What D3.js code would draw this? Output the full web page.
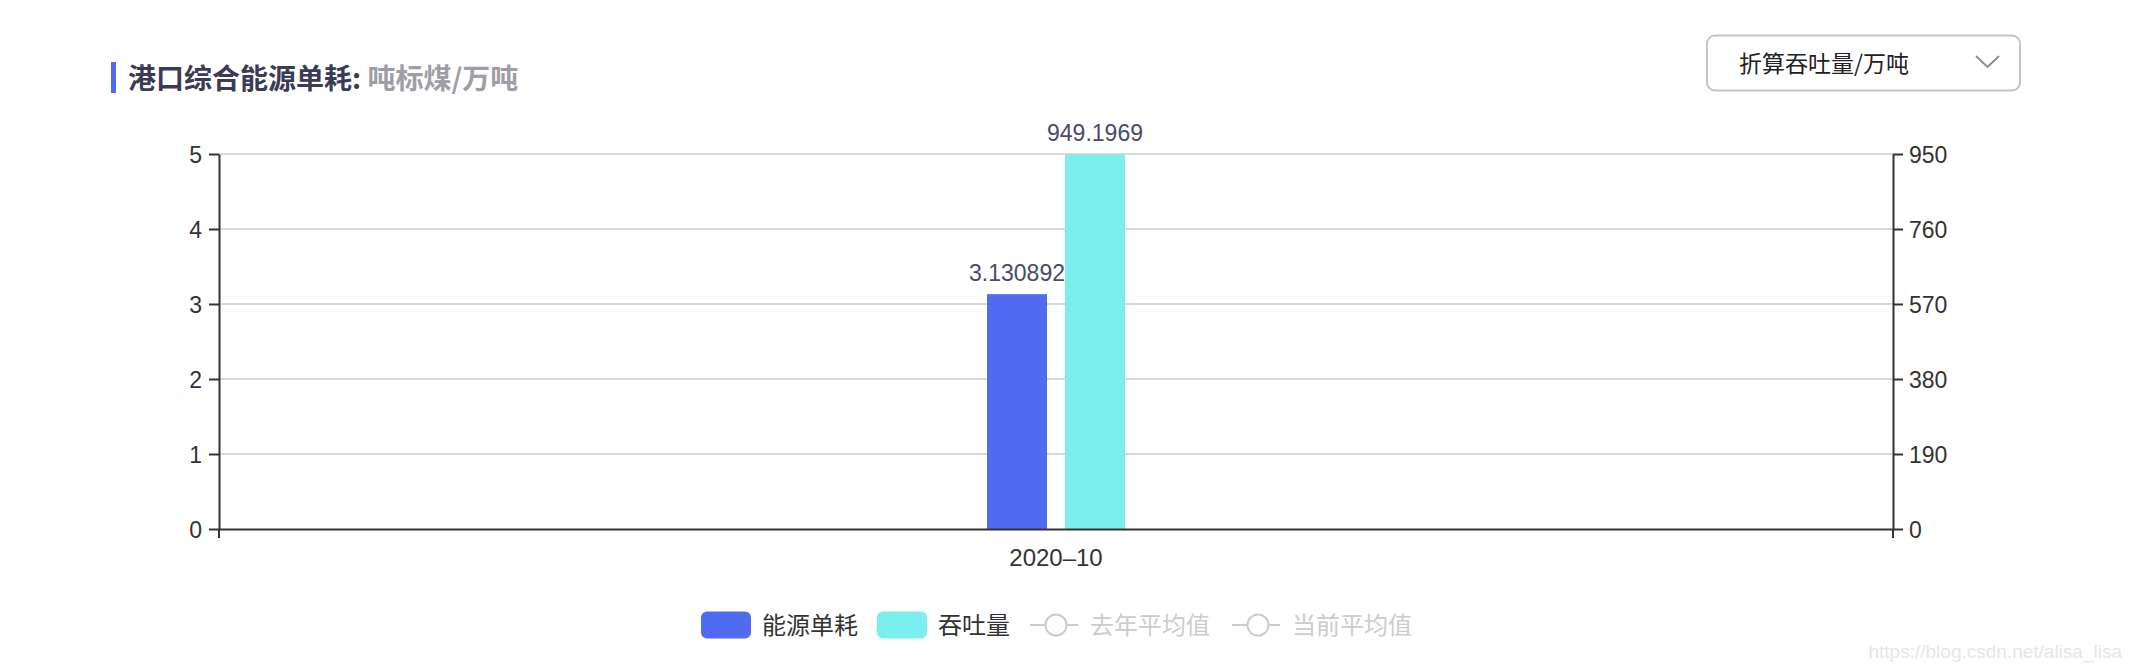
<!DOCTYPE html>
<html><head><meta charset="utf-8">
<script src="https://cdn.jsdelivr.net/npm/d3@7/dist/d3.min.js"></script>
<style>
html,body{margin:0;padding:0;background:#fff;}
svg{display:block;}
text{font-family:"Liberation Sans","Noto Sans CJK SC",sans-serif;}
.cjk{font-family:"Noto Sans CJK SC","Liberation Sans",sans-serif;}
</style></head>
<body>
<svg id="chart" width="2132" height="670"></svg>
<script>
const categories = ["2020-10"];
const seriesNames = ["能源单耗", "吞吐量"];
const energyValues = [3.130892];
const throughputValues = [949.1969];
const energyLabels = ["3.130892"];
const throughputLabels = ["949.1969"];
const leftTicks = [0, 1, 2, 3, 4, 5];
const rightTicks = [0, 190, 380, 570, 760, 950];
const legendItems = ["能源单耗", "吞吐量", "去年平均值", "当前平均值"];
const titleMain = "港口综合能源单耗: ";
const titleUnit = "吨标煤/万吨";
const dropdownText = "折算吞吐量/万吨";
const watermark = "https://blog.csdn.net/alisa_lisa";

const W = 2132, H = 670;
const M = {left: 219, right: 239, top: 154, bottom: 141};
const colors = {"能源单耗": "#506AF0", "吞吐量": "#7AEFEE"};

const svg = d3.select("#chart");

// title
svg.append("rect").attr("x", 111).attr("y", 62).attr("width", 5).attr("height", 31).attr("fill", "#506AF0");
const t = svg.append("text").attr("class", "cjk").attr("x", 128).attr("y", 89)
  .style("font-size", "28px").style("font-weight", "bold");
t.append("tspan").attr("fill", "#3b3b55").text(titleMain);
t.append("tspan").attr("fill", "#9e9ea6").text(titleUnit);

// dropdown
const dd = svg.append("g");
dd.append("rect").attr("x", 1707).attr("y", 35.5).attr("width", 313).attr("height", 55)
  .attr("rx", 8).attr("fill", "#fff").attr("stroke", "#c4c4c4").attr("stroke-width", 2);
dd.append("text").attr("class", "cjk").attr("x", 1739).attr("y", 72).attr("fill", "#222")
  .style("font-size", "23px").text(dropdownText);
dd.append("path").attr("d", "M1976,56 L1987.5,67 L1999,56").attr("fill", "none")
  .attr("stroke", "#8a8a8a").attr("stroke-width", 1.8);

// scales
const x0 = d3.scaleBand().domain(categories).range([M.left, W - M.right]).paddingInner(0).paddingOuter(0);
const x1 = d3.scaleBand().domain(seriesNames).range([-69, 69]).paddingInner(18 / 78).paddingOuter(0);
const yL = d3.scaleLinear().domain([0, 5]).range([H - M.bottom, M.top]);
const yR = d3.scaleLinear().domain([0, 950]).range([H - M.bottom, M.top]);

// grid
svg.append("g").selectAll("line").data(leftTicks.filter(d => d > 0)).join("line")
  .attr("x1", M.left).attr("x2", W - M.right)
  .attr("y1", d => yL(d)).attr("y2", d => yL(d))
  .attr("stroke", "#cccccc").attr("stroke-width", 1.5);

// bars
const barData = categories.flatMap((c, i) => [
  {cat: c, s: "能源单耗", v: energyValues[i], scale: yL, label: energyLabels[i]},
  {cat: c, s: "吞吐量", v: throughputValues[i], scale: yR, label: throughputLabels[i]}
]);
const bx = d => x0(d.cat) + x0.bandwidth() / 2 + x1(d.s);
svg.append("g").selectAll("rect").data(barData).join("rect")
  .attr("x", bx).attr("width", x1.bandwidth())
  .attr("y", d => d.scale(d.v)).attr("height", d => d.scale(0) - d.scale(d.v))
  .attr("fill", d => colors[d.s]);
svg.append("g").selectAll("text").data(barData).join("text")
  .attr("x", d => bx(d) + x1.bandwidth() / 2).attr("y", d => d.scale(d.v) - 13)
  .attr("text-anchor", "middle").attr("fill", "#4a4a66").style("font-size", "23px")
  .text(d => d.label);

// axes
function styleAxis(g) {
  g.select(".domain").attr("stroke", "#333").attr("stroke-width", 2);
  g.selectAll(".tick line").attr("stroke", "#333").attr("stroke-width", 2);
  g.selectAll(".tick text").attr("fill", "#333").style("font-size", "23px")
    .style("font-family", "'Liberation Sans',sans-serif");
}
const gL = svg.append("g").attr("transform", `translate(${M.left},0)`)
  .call(d3.axisLeft(yL).tickValues(leftTicks).tickFormat(d3.format("d")).tickSize(10).tickSizeOuter(0).tickPadding(7));
styleAxis(gL);
gL.selectAll(".tick text").attr("dy", "0.36em");
const gR = svg.append("g").attr("transform", `translate(${W - M.right},0)`)
  .call(d3.axisRight(yR).tickValues(rightTicks).tickFormat(d3.format("d")).tickSize(10).tickSizeOuter(0).tickPadding(6));
styleAxis(gR);
gR.selectAll(".tick text").attr("dy", "0.36em");
const gB = svg.append("g").attr("transform", `translate(0,${H - M.bottom})`)
  .call(d3.axisBottom(x0).tickSize(0).tickSizeOuter(0).tickPadding(20).tickFormat(d => d.replace("-", "–")));
styleAxis(gB);
gB.selectAll(".tick text").attr("dy", "0.71em").style("font-size", "24px");
// boundary ticks (category edges)
gB.selectAll("line.edge").data(x0.range()).join("line").attr("class", "edge")
  .attr("x1", d => d).attr("x2", d => d).attr("y1", 0).attr("y2", 9)
  .attr("stroke", "#333").attr("stroke-width", 2);

// legend
const legendPos = [701, 877, 1030, 1232];
const lg = svg.append("g").selectAll("g").data(legendItems).join("g")
  .attr("transform", (d, i) => `translate(${legendPos[i]},625)`);
lg.each(function(d, i) {
  const g = d3.select(this);
  if (i < 2) {
    g.append("rect").attr("x", 0).attr("y", -13.5).attr("width", 50).attr("height", 27).attr("rx", 6)
      .attr("fill", colors[d]);
    g.append("text").attr("class", "cjk").attr("x", 61).attr("y", 0).attr("dy", "0.36em")
      .attr("fill", "#333").style("font-size", "24px").text(d);
  } else {
    g.append("line").attr("x1", 0).attr("x2", 48).attr("y1", 0).attr("y2", 0)
      .attr("stroke", "#cccccc").attr("stroke-width", 2);
    g.append("circle").attr("cx", 26).attr("cy", 0).attr("r", 10.5)
      .attr("fill", "#fff").attr("stroke", "#cccccc").attr("stroke-width", 2);
    g.append("text").attr("class", "cjk").attr("x", 60).attr("y", 0).attr("dy", "0.36em")
      .attr("fill", "#cccccc").style("font-size", "24px").text(d);
  }
});

// watermark
svg.append("text").attr("x", 2122).attr("y", 658).attr("text-anchor", "end")
  .attr("fill", "#e6e6e6").style("font-size", "19px").text(watermark);
</script>
</body></html>
